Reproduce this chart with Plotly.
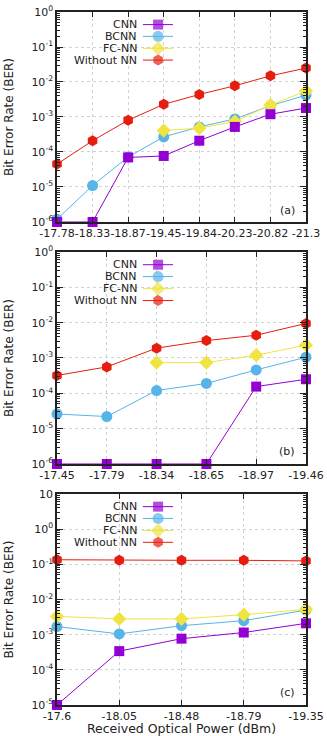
import plotly.graph_objects as go

# ---------------- data ----------------
series_names = ["CNN", "BCNN", "FC-NN", "Without NN"]

a_power = ["-17.78", "-18.33", "-18.87", "-19.45", "-19.84", "-20.23", "-20.82", "-21.3"]
a_cnn = [1e-6, 1e-6, 7.0e-5, 7.7e-5, 2.1e-4, 5.2e-4, 1.2e-3, 1.8e-3]
a_bcnn = [1.2e-6, 1.1e-5, 7.2e-5, 2.7e-4, 5.2e-4, 8.8e-4, 2.1e-3, 4.2e-3]
a_fcnn = [None, None, None, 4.1e-4, 4.8e-4, 7.4e-4, 2.2e-3, 5.5e-3]
a_wonn = [4.5e-5, 2.1e-4, 8.1e-4, 2.3e-3, 4.4e-3, 7.8e-3, 1.5e-2, 2.5e-2]

b_power = ["-17.45", "-17.79", "-18.34", "-18.65", "-18.97", "-19.46"]
b_cnn = [1e-6, 1e-6, 1e-6, 1e-6, 1.55e-4, 2.5e-4]
b_bcnn = [2.6e-5, 2.2e-5, 1.2e-4, 1.9e-4, 4.6e-4, 1.05e-3]
b_fcnn = [None, None, 7.4e-4, 7.4e-4, 1.2e-3, 2.3e-3]
b_wonn = [3.2e-4, 5.6e-4, 1.9e-3, 3.1e-3, 4.4e-3, 9.5e-3]

c_power = ["-17.6", "-18.05", "-18.48", "-18.79", "-19.35"]
c_cnn = [1e-5, 3.4e-4, 7.7e-4, 1.15e-3, 2.1e-3]
c_bcnn = [1.7e-3, 1.05e-3, 1.8e-3, 2.5e-3, 5.0e-3]
c_fcnn = [3.3e-3, 2.8e-3, 2.8e-3, 3.7e-3, 5.2e-3]
c_wonn = [0.135, 0.13, 0.13, 0.13, 0.125]

ab_tickvals = [1e-6, 1e-5, 1e-4, 1e-3, 1e-2, 1e-1, 1]
ab_ticktext = ["10<sup>-6</sup>", "10<sup>-5</sup>", "10<sup>-4</sup>", "10<sup>-3</sup>",
               "10<sup>-2</sup>", "10<sup>-1</sup>", "10<sup>0</sup>"]
c_tickvals = [1e-5, 1e-4, 1e-3, 1e-2, 1e-1, 1, 10]
c_ticktext = ["10<sup>-5</sup>", "10<sup>-4</sup>", "10<sup>-3</sup>", "10<sup>-2</sup>",
              "10<sup>-1</sup>", "10<sup>0</sup>", "10"]

panel_labels = ["(a)", "(b)", "(c)"]
y_title = "Bit Error Rate (BER)"
x_title = "Received Optical Power (dBm)"

# ---------------- styles ----------------
FONT = "DejaVu Sans"
styles = {
    "CNN": dict(color="#9400D3", symbol="square", size=10),
    "BCNN": dict(color="#56B4E9", symbol="circle", size=11),
    "FC-NN": dict(color="#F0E442", symbol="diamond", size=11),
    "Without NN": dict(color="#E51E10", symbol="hexagon", size=11),
}
draw_order = ["Without NN", "BCNN", "FC-NN", "CNN"]

panels = [
    (a_power, {"CNN": a_cnn, "BCNN": a_bcnn, "FC-NN": a_fcnn, "Without NN": a_wonn},
     ab_tickvals, ab_ticktext, [-6, 0], [0.697, 1.0]),
    (b_power, {"CNN": b_cnn, "BCNN": b_bcnn, "FC-NN": b_fcnn, "Without NN": b_wonn},
     ab_tickvals, ab_ticktext, [-6, 0], [0.3478, 0.6537]),
    (c_power, {"CNN": c_cnn, "BCNN": c_bcnn, "FC-NN": c_fcnn, "Without NN": c_wonn},
     c_tickvals, c_ticktext, [-5, 1], [0.0, 0.3045]),
]

# legend geometry (fractions of each panel's domain)
leg_text_x = 0.329
leg_line_x0, leg_line_xm, leg_line_x1 = 0.345, 0.406, 0.466
leg_rows_y = [0.940, 0.884, 0.827, 0.771]

fig = go.Figure()
layout = dict(
    width=327, height=736,
    margin=dict(l=57, r=21, t=12, b=31, autoexpand=False),
    paper_bgcolor="white", plot_bgcolor="white",
    showlegend=False,
    font=dict(family=FONT, size=11, color="#222222"),
    annotations=[],
)

for i, (cats, data, tv, tt, yr, dom) in enumerate(panels):
    n = i + 1
    xa = "x" if n == 1 else f"x{n}"
    ya = "y" if n == 1 else f"y{n}"
    xo, yo = f"x{n + 3}", f"y{n + 3}"
    for name in draw_order:
        st = styles[name]
        fig.add_trace(go.Scatter(
            x=cats, y=data[name], mode="lines+markers", name=name,
            xaxis=xa, yaxis=ya, cliponaxis=False, connectgaps=False,
            line=dict(color=st["color"], width=1),
            marker=dict(color=st["color"], symbol=st["symbol"], size=st["size"],
                        line=dict(width=0)),
        ))
    # manual gnuplot-style key
    for name, ry in zip(series_names, leg_rows_y):
        st = styles[name]
        fig.add_trace(go.Scatter(
            x=[leg_line_x0, leg_line_xm, leg_line_x1], y=[ry, ry, ry],
            mode="lines+markers", xaxis=xo, yaxis=yo, cliponaxis=False,
            hoverinfo="skip",
            line=dict(color=st["color"], width=1),
            marker=dict(color=st["color"], symbol=st["symbol"],
                        size=[0, st["size"], 0], line=dict(width=0)),
        ))
        layout["annotations"].append(dict(
            text=name, xref=f"{xa} domain", yref=f"{ya} domain",
            x=leg_text_x, y=ry, xanchor="right", yanchor="middle",
            showarrow=False, font=dict(family=FONT, size=11, color="#222222")))
    layout["annotations"].append(dict(
        text=panel_labels[i], xref=f"{xa} domain", yref=f"{ya} domain",
        x=0.965, y=0.057, xanchor="right", yanchor="middle",
        showarrow=False, font=dict(family=FONT, size=11, color="#222222")))

    xkey = "xaxis" if n == 1 else f"xaxis{n}"
    ykey = "yaxis" if n == 1 else f"yaxis{n}"
    layout[xkey] = dict(
        type="category", categoryorder="array", categoryarray=cats,
        range=[0, len(cats) - 1], anchor=ya, domain=[0, 1], automargin=False,
        showline=True, linecolor="#222222", linewidth=1.5, mirror="ticks",
        ticks="inside", ticklen=5, tickcolor="#222222", tickangle=0,
        ticklabeloverflow="allow",
        showgrid=True, gridcolor="#d2d2d2", griddash="dot", gridwidth=1,
        tickfont=dict(family=FONT, size=11, color="#222222"),
        zeroline=False,
        title=dict(text=x_title if n == 3 else "", font=dict(family=FONT, size=12.5)),
    )
    layout[ykey] = dict(
        type="log", range=yr, domain=dom, anchor=xa, automargin=False,
        tickmode="array", tickvals=tv, ticktext=tt, ticklabeloverflow="allow",
        showline=True, linecolor="#222222", linewidth=1.5, mirror="ticks",
        ticks="inside", ticklen=6, tickcolor="#222222",
        minor=dict(ticks="inside", ticklen=3, tickcolor="#222222", dtick="D1", showgrid=False),
        showgrid=True, gridcolor="#d2d2d2", griddash="dot", gridwidth=1,
        tickfont=dict(family=FONT, size=11, color="#222222"),
        zeroline=False,
        title=dict(text=y_title, font=dict(family=FONT, size=12)),
    )
    layout[f"xaxis{n + 3}"] = dict(overlaying=xa, anchor=yo, range=[0, 1], visible=False,
                                   fixedrange=True)
    layout[f"yaxis{n + 3}"] = dict(overlaying=ya, anchor=xo, range=[0, 1], visible=False,
                                   fixedrange=True)

fig.update_layout(**layout)
# remove the default 8px page margin so the figure fills the window exactly
fig.write_html("out.html",
               config={"displayModeBar": False},
               post_script="document.body.style.margin='0';document.body.style.overflow='hidden';")
